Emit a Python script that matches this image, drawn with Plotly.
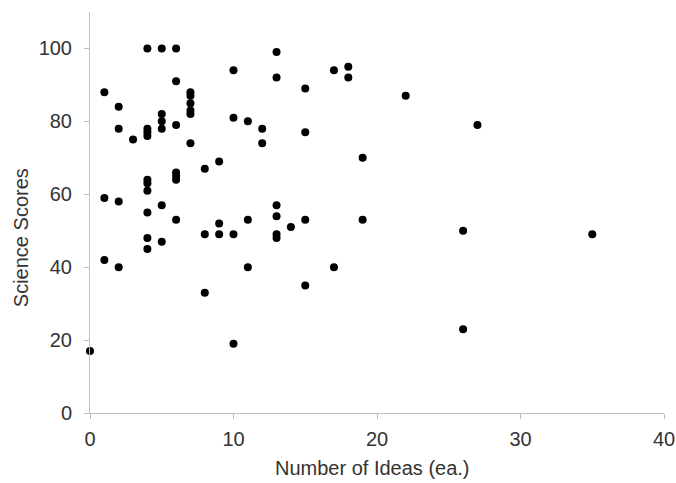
import plotly.graph_objects as go

ideas = [0,
         1, 1, 1,
         2, 2, 2, 2,
         3,
         4, 4, 4, 4, 4, 4, 4, 4, 4, 4,
         5, 5, 5, 5, 5, 5,
         6, 6, 6, 6, 6, 6, 6,
         7, 7, 7, 7, 7, 7,
         8, 8, 8,
         9, 9, 9,
         10, 10, 10, 10,
         11, 11, 11,
         12, 12,
         13, 13, 13, 13, 13, 13,
         14,
         15, 15, 15, 15,
         17, 17,
         18, 18,
         19, 19,
         22,
         26, 26,
         27,
         35]
scores = [17,
          88, 59, 42,
          84, 78, 58, 40,
          75,
          100, 78, 77, 76, 64, 63, 61, 55, 48, 45,
          100, 82, 80, 78, 57, 47,
          100, 91, 79, 66, 65, 64, 53,
          88, 87, 85, 83, 82, 74,
          67, 49, 33,
          69, 52, 49,
          94, 81, 49, 19,
          80, 53, 40,
          78, 74,
          99, 92, 57, 54, 49, 48,
          51,
          89, 77, 53, 35,
          94, 40,
          95, 92,
          70, 53,
          87,
          50, 23,
          79,
          49]

x_ticks = [0, 10, 20, 30, 40]
y_ticks = [0, 20, 40, 60, 80, 100]
x_title = "Number of Ideas (ea.)"
y_title = "Science Scores"

fig = go.Figure(go.Scatter(
    x=ideas, y=scores, mode="markers",
    marker=dict(color="black", size=8),
    showlegend=False,
    cliponaxis=False,
))

axis_common = dict(
    showgrid=False, zeroline=False, showline=True,
    linecolor="#bfbfbf", linewidth=1,
    ticks="outside", ticklen=5, tickcolor="#bfbfbf",
    tickfont=dict(family="Liberation Sans, Arial", size=20, color="#333333"),
    automargin=False,
)

title_font = dict(family="Liberation Sans, Arial", size=20, color="#333333")

fig.update_layout(
    width=668, height=475,
    margin=dict(l=82, r=12, t=4, b=70, autoexpand=False),
    paper_bgcolor="white", plot_bgcolor="white",
    xaxis=dict(range=[0, 40], tickvals=x_ticks, ticklabelstandoff=3, **axis_common),
    yaxis=dict(range=[0, 110], tickvals=y_ticks, ticklabelstandoff=8, **axis_common),
    annotations=[
        dict(text=x_title, xref="paper", yref="paper", x=0.493, y=0,
             xanchor="center", yanchor="middle", yshift=-55,
             showarrow=False, font=title_font),
        dict(text=y_title, xref="paper", yref="paper", x=0, y=0.436,
             xanchor="center", yanchor="middle", xshift=-69, textangle=-90,
             showarrow=False, font=title_font),
    ],
)

fig.write_html("out.html", post_script="document.body.style.margin='0';document.body.style.overflow='hidden';var d=document.getElementById('{plot_id}');d.style.marginLeft='8px';d.style.marginTop='8px';")
